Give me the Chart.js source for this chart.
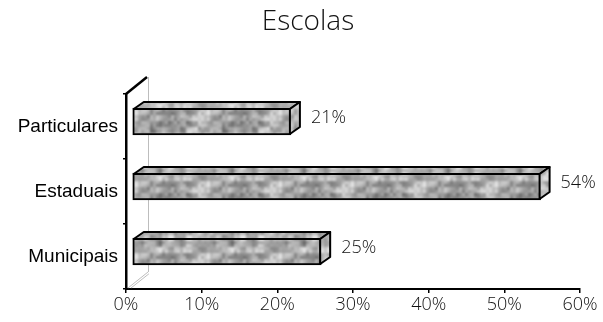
<!DOCTYPE html>
<html><head><meta charset="utf-8">
<script src="https://cdn.jsdelivr.net/npm/chart.js@4/dist/chart.umd.min.js"></script>
<style>html,body{margin:0;padding:0;background:#fff}</style>
</head><body>
<canvas id="c" width="603" height="322"></canvas>
<script>
// Share of schools by network
const chartTitle = 'Escolas';
const categories = ['Particulares', 'Estaduais', 'Municipais'];
const shares = [21, 54, 25];
const tickValues = [0, 10, 20, 30, 40, 50, 60];

const LIGHT_FONT = '"Open Sans", "DejaVu Sans", sans-serif';
const LABEL_FONT = '"Liberation Sans", Arial, sans-serif';

// 3D geometry (pixels)
const DEPTH_X = 10, DEPTH_Y = -7;   // bar depth
const SHIFT_X = 6, SHIFT_Y = -5;    // bars sit a little behind the front plane
const WALL_X = 22, WALL_Y = -17;    // floor / wall depth

function hash(x, y, s) {
  let h = (x * 374761393 + y * 668265263 + s * 982451653) | 0;
  h = Math.imul(h ^ (h >>> 13), 1274126177);
  h = h ^ (h >>> 16);
  return ((h >>> 0) % 10000) / 10000;
}

// mottled grey granite texture, softened
function makeTexture(lift) {
  const cell = 3, n = 24, size = cell * n;
  const raw = document.createElement('canvas');
  raw.width = raw.height = size * 3;
  const g = raw.getContext('2d');
  for (let y = 0; y < n; y++) {
    for (let x = 0; x < n; x++) {
      const coarse = hash(x >> 2, y >> 1, 1);
      const mid = hash(x >> 1, y >> 1, 3);
      const fine = hash(x, y, 2);
      let v = 172 + (coarse - 0.5) * 55 + (mid - 0.5) * 45 + (fine - 0.5) * 45 + lift;
      if (fine > 0.92) v -= 50;
      v = Math.max(80, Math.min(230, Math.round(v)));
      g.fillStyle = `rgb(${v},${v},${v})`;
      for (let ty = 0; ty < 3; ty++)
        for (let tx = 0; tx < 3; tx++)
          g.fillRect(tx * size + x * cell, ty * size + y * cell, cell, cell);
    }
  }
  const c = document.createElement('canvas');
  c.width = c.height = size;
  const o = c.getContext('2d');
  o.filter = 'blur(0.8px)';
  o.drawImage(raw, -size, -size);
  return o.createPattern(c, 'repeat');
}

const frontTex = makeTexture(0);
const topTex = makeTexture(10);
const sideTex = makeTexture(22);

// title centred over the plot, including the category labels
const titlePlugin = {
  id: 'centredTitle',
  afterDraw(chart) {
    const { ctx } = chart;
    ctx.save();
    ctx.fillStyle = '#111';
    ctx.font = `300 28px ${LIGHT_FONT}`;
    ctx.textAlign = 'center';
    ctx.textBaseline = 'middle';
    ctx.fillText(chartTitle, 308, 22);
    ctx.restore();
  }
};

const box3d = {
  id: 'box3d',
  beforeDatasetsDraw(chart) {
    const { ctx, chartArea: a } = chart;
    ctx.save();
    // back wall edge
    ctx.strokeStyle = '#bdbdbd';
    ctx.lineWidth = 1;
    ctx.beginPath();
    ctx.moveTo(a.left + WALL_X + 0.5, a.top + WALL_Y);
    ctx.lineTo(a.left + WALL_X + 0.5, a.bottom + WALL_Y);
    ctx.stroke();
    // floor edges
    for (const off of [0, 3]) {
      ctx.beginPath();
      ctx.moveTo(a.left + 2 + off, a.bottom - 1);
      ctx.lineTo(a.left + WALL_X + off * 0.3, a.bottom + WALL_Y + off * 0.6);
      ctx.stroke();
    }
    // top edge of the side wall
    ctx.strokeStyle = '#000';
    ctx.lineWidth = 2.5;
    ctx.beginPath();
    ctx.moveTo(a.left, a.top);
    ctx.lineTo(a.left + WALL_X - 1, a.top + WALL_Y);
    ctx.stroke();
    ctx.restore();

    ctx.save();
    ctx.translate(SHIFT_X, SHIFT_Y);
  },
  afterDatasetsDraw(chart) {
    const { ctx } = chart;
    const meta = chart.getDatasetMeta(0);
    const data = chart.data.datasets[0].data;
    ctx.lineJoin = 'round';
    meta.data.forEach((bar, i) => {
      const p = bar.getProps(['x', 'y', 'base', 'height'], true);
      const l = p.base + 1, r = p.x - 1;
      const t = p.y - p.height / 2 + 1, b = p.y + p.height / 2 - 1;
      // top face
      ctx.beginPath();
      ctx.moveTo(l, t);
      ctx.lineTo(l + DEPTH_X, t + DEPTH_Y);
      ctx.lineTo(r + DEPTH_X, t + DEPTH_Y);
      ctx.lineTo(r, t);
      ctx.closePath();
      ctx.fillStyle = topTex;
      ctx.fill();
      ctx.strokeStyle = '#000';
      ctx.lineWidth = 2;
      ctx.stroke();
      // side face
      ctx.beginPath();
      ctx.moveTo(r, t);
      ctx.lineTo(r + DEPTH_X, t + DEPTH_Y);
      ctx.lineTo(r + DEPTH_X, b + DEPTH_Y);
      ctx.lineTo(r, b);
      ctx.closePath();
      ctx.fillStyle = sideTex;
      ctx.fill();
      ctx.stroke();
      // value label
      ctx.fillStyle = '#111';
      ctx.font = `300 18px ${LIGHT_FONT}`;
      ctx.textAlign = 'left';
      ctx.textBaseline = 'middle';
      ctx.fillText(data[i] + '%', r + DEPTH_X + 11, p.y + DEPTH_Y / 2);
    });
    ctx.restore();
  }
};

new Chart(document.getElementById('c'), {
  type: 'bar',
  data: {
    labels: categories,
    datasets: [{
      data: shares,
      backgroundColor: frontTex,
      borderColor: '#000',
      borderWidth: 2,
      borderSkipped: false,
      barThickness: 27
    }]
  },
  plugins: [box3d, titlePlugin],
  options: {
    indexAxis: 'y',
    responsive: false,
    animation: false,
    devicePixelRatio: 1,
    layout: { padding: { left: 0, right: 23, top: 94, bottom: 0 } },
    plugins: {
      legend: { display: false },
      tooltip: { enabled: false },
      title: { display: false }
    },
    scales: {
      x: {
        min: tickValues[0],
        max: tickValues[tickValues.length - 1],
        afterBuildTicks(s) { s.ticks = tickValues.map(v => ({ value: v })); },
        ticks: {
          callback: v => v + '%',
          color: '#111',
          font: { family: LIGHT_FONT, size: 18, weight: 300 },
          padding: 1,
          maxRotation: 0
        },
        grid: { drawOnChartArea: false, color: '#000', tickLength: 4, lineWidth: 1.5 },
        border: { color: '#000', width: 2 },
        afterFit(s) { s.height = 33; }
      },
      y: {
        ticks: {
          color: '#000',
          font: { family: LABEL_FONT, size: 19 },
          padding: 5
        },
        grid: { drawOnChartArea: false, offset: true, color: '#000', tickLength: 3, lineWidth: 1.5 },
        border: { color: '#000', width: 2.5 },
        afterFit(s) { s.width = 126; }
      }
    }
  }
});
</script>
</body></html>
